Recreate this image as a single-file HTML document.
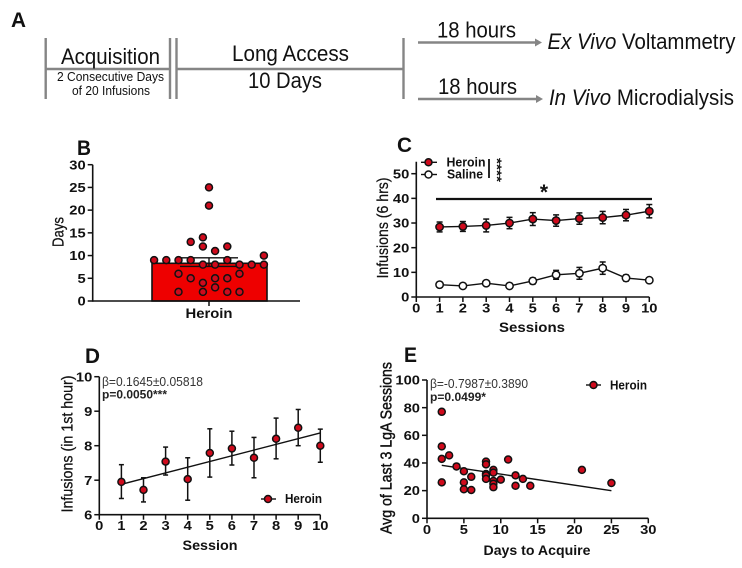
<!DOCTYPE html>
<html lang="en">
<head>
<meta charset="utf-8">
<title>Heroin self-administration figure</title>
<style>
html,body{margin:0;padding:0;background:#fff;width:742px;height:568px;overflow:hidden}
svg{display:block;filter:blur(0.35px)}
text{font-family:"Liberation Sans",sans-serif;fill:#111}
</style>
</head>
<body>
<svg id="fig" xmlns="http://www.w3.org/2000/svg" width="742" height="568" viewBox="0 0 742 568">
  <g stroke="#858585" stroke-width="2.4" fill="none">
    <line x1="45.7" y1="38" x2="45.7" y2="99"/>
    <line x1="170" y1="38" x2="170" y2="99"/>
    <line x1="176.5" y1="38" x2="176.5" y2="99"/>
    <line x1="403.5" y1="38" x2="403.5" y2="99"/>
    <line x1="45.7" y1="69" x2="170" y2="69"/>
    <line x1="176.5" y1="69" x2="403.5" y2="69"/>
    <line x1="418" y1="42.5" x2="536" y2="42.5"/>
    <line x1="418" y1="99" x2="537" y2="99"/>
    <polygon points="535,38.5 542,42.5 535,46.5" fill="#858585" stroke="none"/>
    <polygon points="536,95 543,99 536,103" fill="#858585" stroke="none"/>
  </g>
  <g>
    <text x="11" y="27" font-size="21" font-weight="bold" textLength="15" lengthAdjust="spacingAndGlyphs">A</text>
    <text x="61" y="64" font-size="22" textLength="99" lengthAdjust="spacingAndGlyphs">Acquisition</text>
    <text x="57" y="81" font-size="12.5" textLength="107" lengthAdjust="spacingAndGlyphs">2 Consecutive Days</text>
    <text x="72" y="95" font-size="12.5" textLength="78" lengthAdjust="spacingAndGlyphs">of 20 Infusions</text>
    <text x="232" y="61" font-size="22" textLength="117" lengthAdjust="spacingAndGlyphs">Long Access</text>
    <text x="248" y="88" font-size="22" textLength="74" lengthAdjust="spacingAndGlyphs">10 Days</text>
    <text x="437" y="37.5" font-size="22" textLength="79" lengthAdjust="spacingAndGlyphs">18 hours</text>
    <text x="438" y="94" font-size="22" textLength="79" lengthAdjust="spacingAndGlyphs">18 hours</text>
    <text x="547.5" y="49" font-size="22" textLength="188" lengthAdjust="spacingAndGlyphs"><tspan font-style="italic">Ex Vivo</tspan> Voltammetry</text>
    <text x="549" y="105" font-size="22" textLength="185" lengthAdjust="spacingAndGlyphs"><tspan font-style="italic">In Vivo</tspan> Microdialysis</text>
  </g>
</svg>
<script>
/* Panel B: days to acquire, one dot per subject */
const bDays = [9,9,9,9,9,10,8,8,8,8,8,25,21,13,14,12,11,12,6,5,5,5,6,4,3,2,2,2,2];
const bSlots = [-4.5,-3.5,-2.5,-1.5,1.5,4.5,4.5,3.5,2.5,0.5,-0.5,0,0,-1.5,-0.5,-0.5,0.5,1.5,-2.5,-1.5,0.5,1.5,2.5,-0.5,0.5,-2.5,-0.5,1.5,2.5];
const bMean = 8.3;
const bErrLow = 7.6;
const bErrHigh = 9.5;
const bTicks = [0,5,10,15,20,25,30];

/* Panel C: infusions per session */
const sessions = [1,2,3,4,5,6,7,8,9,10];
const cHeroin = [28.4,28.6,29,30,31.6,31,31.8,32.2,33.2,34.8];
const cHeroinErr = [2.0,2.0,2.6,2.3,2.6,2.3,2.3,2.5,2.3,2.7];
const cSaline = [5,4.5,5.6,4.5,6.5,9,9.6,11.7,7.7,6.8];
const cSalineErr = [0.6,0.5,0.6,0.5,1.2,1.8,2.4,2.5,1.2,0.8];
const cYTicks = [0,10,20,30,40,50];
const sessionTicks = [0,1,2,3,4,5,6,7,8,9,10];

/* Panel D: first-hour infusions per session */
const dMeans = [6.95,6.72,7.54,7.03,7.79,7.92,7.65,8.2,8.52,8.0];
const dLow = [6.47,6.37,7.15,6.42,7.09,7.44,7.07,7.62,8.0,7.52];
const dHigh = [7.45,7.07,7.96,7.65,8.49,8.42,8.24,8.8,9.05,8.48];
const dFitSessions = [1,10];
const dFitValues = [6.88,8.37];
const dYTicks = [6,7,8,9,10];

/* Panel E: days to acquire vs last sessions */
const eDays = [2,2,2,2,3,4,5,5,5,6,6,8,8,8,8,8,9,9,9,9,9,10,11,12,12,13,14,21,25];
const eAvg = [77,52,43,26,45.5,37.5,34,26,21,30,20.5,41,39,32,31,28.5,35,33,27,25,22.5,28,42.5,31,23.5,28.5,23.5,35,25.5];
const eFitDays = [2,25];
const eFitValues = [38.3,20];
const eXTicks = [0,5,10,15,20,25,30];
const eYTicks = [0,20,40,60,80,100];

const NS = 'http://www.w3.org/2000/svg';
const fig = document.getElementById('fig');
const RED = '#cf0a1c';
const INK = '#111';

function linear(d0, d1, r0, r1) {
  return function (v) { return r0 + (v - d0) * (r1 - r0) / (d1 - d0); };
}
function group(name) {
  const el = document.createElementNS(NS, 'g');
  
  
  fig.appendChild(el);
  return el;
}
function line(p, name, x1, y1, x2, y2, w, color) {
  const el = document.createElementNS(NS, 'line');
  
  
  el.setAttribute('x1', x1);
  el.setAttribute('y1', y1);
  el.setAttribute('x2', x2);
  el.setAttribute('y2', y2);
  el.setAttribute('stroke', color || INK);
  el.setAttribute('stroke-width', w || 1.5);
  p.appendChild(el);
  return el;
}
function dot(p, name, x, y, fill, r) {
  const el = document.createElementNS(NS, 'circle');
  
  
  el.setAttribute('cx', x);
  el.setAttribute('cy', y);
  el.setAttribute('r', r || 3.8);
  el.setAttribute('fill', fill || RED);
  el.setAttribute('stroke', INK);
  el.setAttribute('stroke-width', 1.5);
  p.appendChild(el);
  return el;
}
function label(p, name, str, x, y, o) {
  o = o || {};
  const el = document.createElementNS(NS, 'text');
  
  
  el.setAttribute('x', x);
  el.setAttribute('y', y);
  el.setAttribute('font-size', o.size || 13);
  if (o.bold) el.setAttribute('font-weight', 'bold');
  if (o.anchor) el.setAttribute('text-anchor', o.anchor);
  if (o.color) el.setAttribute('style', 'fill:' + o.color);
  if (o.heavy) {
    el.setAttribute('stroke', '#111');
    el.setAttribute('stroke-width', o.heavy);
  }
  if (o.len) {
    el.setAttribute('textLength', o.len);
    el.setAttribute('lengthAdjust', 'spacingAndGlyphs');
  }
  if (o.rotate) el.setAttribute('transform', 'rotate(' + o.rotate + ' ' + x + ' ' + y + ')');
  el.textContent = str;
  p.appendChild(el);
  return el;
}
function yAxis(p, x, scale, ticks, top) {
  line(p, 'y-axis-line', x, top, x, scale(ticks[0]) + 0.75, 1.6);
  ticks.forEach(function (t) {
    line(p, 'y-tick', x - 5, scale(t), x, scale(t), 1.5);
    label(p, 'y-tick-label', String(t), x - 7, scale(t) + 4.6, {bold: true, anchor: 'end', size: 13, len: String(t).length * 8.2});
  });
}
function xAxis(p, y, scale, ticks) {
  line(p, 'x-axis-line', scale(ticks[0]), y, scale(ticks[ticks.length - 1]), y, 1.6);
  ticks.forEach(function (t) {
    line(p, 'x-tick', scale(t), y, scale(t), y + 5, 1.5);
    label(p, 'x-tick-label', String(t), scale(t), y + 15.5, {bold: true, anchor: 'middle', size: 13, len: String(t).length * 8.2});
  });
}
function errorBar(p, x, yLow, yHigh, capHalf, w) {
  line(p, 'error-bar', x, yLow, x, yHigh, w);
  line(p, 'error-cap-low', x - capHalf, yLow, x + capHalf, yLow, w);
  line(p, 'error-cap-high', x - capHalf, yHigh, x + capHalf, yHigh, w);
}

/* ---------- Panel B ---------- */
(function () {
  const g = group('panel-b-days-chart');
  const y = linear(0, 30, 301, 164.7);
  const slotX = linear(0, 1, 209, 221.2);
  label(g, 'panel-b-letter', 'B', 77, 155, {bold: true, size: 21, len: 14});
  const bar = document.createElementNS(NS, 'rect');
  
  
  bar.setAttribute('x', 152);
  bar.setAttribute('y', y(bMean));
  bar.setAttribute('width', 115);
  bar.setAttribute('height', y(0) - y(bMean));
  bar.setAttribute('fill', '#ee0000');
  bar.setAttribute('stroke', INK);
  bar.setAttribute('stroke-width', 1.6);
  g.appendChild(bar);
  errorBar(g, 209, y(bErrLow), y(bErrHigh), 29, 1.4);
  bDays.forEach(function (d, i) {
    dot(g, 'subject-dot', slotX(bSlots[i]), y(d), RED, 3.5);
  });
  yAxis(g, 92.7, y, bTicks, y(30));
  line(g, 'x-axis-line', 92.7, 301, 300, 301, 1.6);
  line(g, 'x-tick', 209, 301, 209, 306, 1.5);
  label(g, 'x-category-label', 'Heroin', 209, 318, {bold: true, anchor: 'middle', size: 14, len: 47});
  label(g, 'y-axis-title', 'Days', 63.5, 232, {anchor: 'middle', size: 16, rotate: -90, len: 30, heavy: 0.25});
})();

/* ---------- Panel C ---------- */
(function () {
  const g = group('panel-c-sessions-chart');
  const x = linear(0, 10, 416.3, 649.3);
  const y = linear(0, 50, 297, 173.7);
  label(g, 'panel-c-letter', 'C', 397, 152, {bold: true, size: 21, len: 15});
  yAxis(g, x(0), y, cYTicks, 161.7);
  xAxis(g, y(0), x, sessionTicks);
  function series(name, vals, errs, fill) {
    const s = group(name);
    const poly = document.createElementNS(NS, 'polyline');
    
    
    poly.setAttribute('points', vals.map(function (v, i) { return x(sessions[i]) + ',' + y(v); }).join(' '));
    poly.setAttribute('fill', 'none');
    poly.setAttribute('stroke', INK);
    poly.setAttribute('stroke-width', 1.4);
    s.appendChild(poly);
    vals.forEach(function (v, i) {
      errorBar(s, x(sessions[i]), y(v - errs[i]), y(v + errs[i]), 3, 1.5);
    });
    vals.forEach(function (v, i) {
      dot(s, 'series-point', x(sessions[i]), y(v), fill, 3.7);
    });
  }
  series('saline-series', cSaline, cSalineErr, '#ffffff');
  series('heroin-series', cHeroin, cHeroinErr, RED);
  line(g, 'significance-line', 436, 199, 652, 199, 2.2);
  label(g, 'significance-star', '*', 544, 199, {bold: true, anchor: 'middle', size: 21});
  line(g, 'legend-heroin-line', 421, 162.3, 437, 162.3, 1.4);
  dot(g, 'legend-heroin-marker', 428.5, 162.3, RED, 3.5);
  label(g, 'legend-heroin-label', 'Heroin', 446.5, 166.3, {bold: true, size: 12.5, len: 39});
  line(g, 'legend-saline-line', 421, 174.5, 437, 174.5, 1.4);
  dot(g, 'legend-saline-marker', 428.5, 174.5, '#ffffff', 3.5);
  label(g, 'legend-saline-label', 'Saline', 447, 178.5, {bold: true, size: 12.5, len: 36});
  line(g, 'legend-bracket', 489, 159, 489, 178, 1.8);
  label(g, 'legend-significance-stars', '****', 492.5, 158, {bold: true, size: 13, rotate: 90, len: 24});
  label(g, 'x-axis-title', 'Sessions', 532, 332, {bold: true, anchor: 'middle', size: 14, len: 66});
  label(g, 'y-axis-title', 'Infusions (6 hrs)', 388, 228, {anchor: 'middle', size: 16, rotate: -90, len: 101, heavy: 0.25});
})();

/* ---------- Panel D ---------- */
(function () {
  const g = group('panel-d-first-hour-chart');
  const x = linear(0, 10, 99.3, 320.3);
  const y = linear(6, 10, 514.7, 376.7);
  label(g, 'panel-d-letter', 'D', 85, 363, {bold: true, size: 21, len: 15});
  yAxis(g, x(0), y, dYTicks, y(10));
  xAxis(g, y(6), x, sessionTicks);
  line(g, 'fit-line', x(dFitSessions[0]), y(dFitValues[0]), x(dFitSessions[1]), y(dFitValues[1]), 1.4);
  dMeans.forEach(function (v, i) {
    errorBar(g, x(sessions[i]), y(dLow[i]), y(dHigh[i]), 2.5, 1.5);
  });
  dMeans.forEach(function (v, i) {
    dot(g, 'session-point', x(sessions[i]), y(v), RED, 3.5);
  });
  label(g, 'beta-annotation', 'β=0.1645±0.05818', 102, 386, {size: 12.5, len: 101, color: '#333'});
  label(g, 'p-value-annotation', 'p=0.0050***', 102, 398.5, {bold: true, size: 12, len: 65, color: '#222'});
  line(g, 'legend-line', 261, 499, 276, 499, 1.4);
  dot(g, 'legend-marker', 268, 499, RED, 3.5);
  label(g, 'legend-label', 'Heroin', 285, 503, {bold: true, size: 12.5, len: 37});
  label(g, 'x-axis-title', 'Session', 210, 550, {bold: true, anchor: 'middle', size: 14, len: 55});
  label(g, 'y-axis-title', 'Infusions (in 1st hour)', 72.5, 444, {anchor: 'middle', size: 16, rotate: -90, len: 137, heavy: 0.25});
})();

/* ---------- Panel E ---------- */
(function () {
  const g = group('panel-e-correlation-chart');
  const x = linear(0, 30, 427, 648.3);
  const y = linear(0, 100, 518.3, 380);
  label(g, 'panel-e-letter', 'E', 404, 362, {bold: true, size: 21, len: 13});
  yAxis(g, x(0), y, eYTicks, y(100));
  xAxis(g, y(0), x, eXTicks);
  line(g, 'fit-line', x(eFitDays[0]), y(eFitValues[0]), x(eFitDays[1]), y(eFitValues[1]), 1.4);
  eDays.forEach(function (d, i) {
    dot(g, 'subject-point', x(d), y(eAvg[i]), RED, 3.5);
  });
  label(g, 'beta-annotation', 'β=-0.7987±0.3890', 430, 388, {size: 12.5, len: 98, color: '#333'});
  label(g, 'p-value-annotation', 'p=0.0499*', 430, 401, {bold: true, size: 12, len: 56, color: '#222'});
  line(g, 'legend-line', 586, 385, 601, 385, 1.4);
  dot(g, 'legend-marker', 593.5, 385, RED, 3.5);
  label(g, 'legend-label', 'Heroin', 610, 389.5, {bold: true, size: 12.5, len: 37});
  label(g, 'x-axis-title', 'Days to Acquire', 537, 555, {bold: true, anchor: 'middle', size: 14, len: 107});
  label(g, 'y-axis-title', 'Avg of Last 3 LgA Sessions', 391.5, 448, {anchor: 'middle', size: 16, rotate: -90, len: 172, heavy: 0.45});
})();
</script>
</body>
</html>
